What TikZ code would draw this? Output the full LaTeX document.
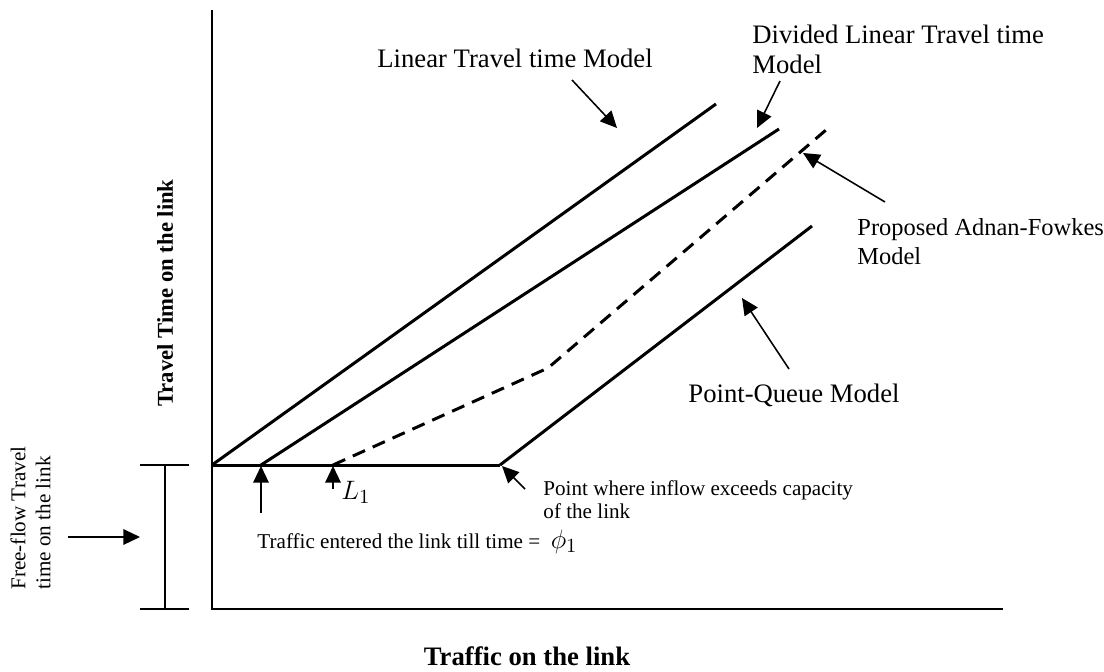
\documentclass[tikz,border=0pt]{standalone}
\usepackage{fontspec}
\setmainfont{Liberation Serif}
\usetikzlibrary{arrows.meta}
\begin{document}
\begin{tikzpicture}[x=0.45pt,y=-0.45pt,
  curve/.style={line width=1.35pt},
  axis/.style={line width=0.9pt},
  pointer/.style={line width=0.7pt,-{Triangle[length=7.5pt,width=7pt]}},
  lbl/.style={inner sep=0pt,font={\fontsize{12}{13.5}\selectfont}},
  midlbl/.style={inner sep=0pt,font={\fontsize{11}{13}\selectfont}},
  note/.style={inner sep=0pt,font={\fontsize{9.5}{10.4}\selectfont}},
  axlbl/.style={inner sep=0pt,font={\fontsize{12}{14}\selectfont\bfseries}},
]
\useasboundingbox (0,0) rectangle (1104,671);

% axes
\coordinate (ytop) at (212,10);
\coordinate (orig) at (212,609);
\coordinate (xend) at (1003,609);
\draw[axis] (ytop) -- (orig) -- (xend);

% free-flow level and model curves
\coordinate (O)  at (212,465);
\coordinate (D0) at (261,465);
\coordinate (A0) at (333,465);
\coordinate (P0) at (500,465);
\coordinate (L1e) at (716,104);
\coordinate (D1) at (779,129);
\coordinate (Ak) at (548,368);
\coordinate (A1) at (826,130);
\coordinate (P1) at (812,226);
\draw[curve] (O) -- (P0);
\draw[curve] (O) -- (L1e);
\draw[curve] (D0) -- (D1);
\draw[curve,dash pattern=on 6pt off 3.8pt] (A0) -- (Ak) -- (A1);
\draw[curve] (P0) -- (P1);

% free-flow travel time bracket
\coordinate (bt) at (165,465);
\coordinate (bb) at (165,609);
\coordinate (btl) at (140,465);
\coordinate (btr) at (189,465);
\coordinate (bbl) at (140,609);
\coordinate (bbr) at (189,609);
\draw[line width=0.7pt] (bt) -- (bb);
\draw[axis] (btl) -- (btr);
\draw[axis] (bbl) -- (bbr);
\coordinate (ffs) at (68,537);
\coordinate (ffe) at (140,537);
\draw[pointer] (ffs) -- (ffe);
\node[note,rotate=90,align=left,anchor=north west,font={\fontsize{9.5}{11.3}\selectfont}] (fftext) at (10,590) {Free-flow Travel\\time on the link};

% axis titles
\node[axlbl,rotate=90,font={\fontsize{10.2}{12}\selectfont\bfseries}] (ytitle) at (165,293) {Travel Time on the link};
\node[axlbl,anchor=base] (xtitle) at (527,665) {Traffic on the link};

% model labels with pointers
\node[lbl,anchor=base west] (linlbl) at (377,67) {Linear Travel time Model};
\coordinate (p1s) at (572,80);
\coordinate (p1e) at (617,128);
\draw[pointer] (p1s) -- (p1e);

\node[lbl,align=left,anchor=north west] (divlbl) at (752,25) {Divided Linear Travel time\\Model};
\coordinate (p2s) at (780,81);
\coordinate (p2e) at (757,128);
\draw[pointer] (p2s) -- (p2e);

\node[midlbl,align=left,anchor=north west] (adflbl) at (857,218) {Proposed Adnan-Fowkes\\Model};
\coordinate (p3s) at (885,202);
\coordinate (p3e) at (803,153);
\draw[pointer] (p3s) -- (p3e);

\node[lbl,anchor=base west] (pqlbl) at (688,402) {Point-Queue Model};
\coordinate (p4s) at (789,369);
\coordinate (p4e) at (742,298);
\draw[pointer] (p4s) -- (p4e);

% notes along the free-flow level
\node[note,align=left,anchor=north west] (caplbl) at (543,480) {Point where inflow exceeds capacity\\of the link};
\coordinate (p5s) at (525,489);
\coordinate (p5e) at (502,466);
\draw[pointer] (p5s) -- (p5e);

\coordinate (p6s) at (261,513);
\coordinate (p6e) at (261,466);
\draw[pointer] (p6s) -- (p6e);
\node[note,anchor=base west] (phitext) at (257,548) {Traffic entered the link till time =\ \ {\fontsize{13}{14}\selectfont$\phi_1$}};

\coordinate (p7s) at (333,489);
\coordinate (p7e) at (333,466);
\draw[pointer] (p7s) -- (p7e);
\node[inner sep=0pt,anchor=base west,font={\fontsize{13}{14}\selectfont}] (l1text) at (341,499) {$L_1$};
\end{tikzpicture}
\end{document}
